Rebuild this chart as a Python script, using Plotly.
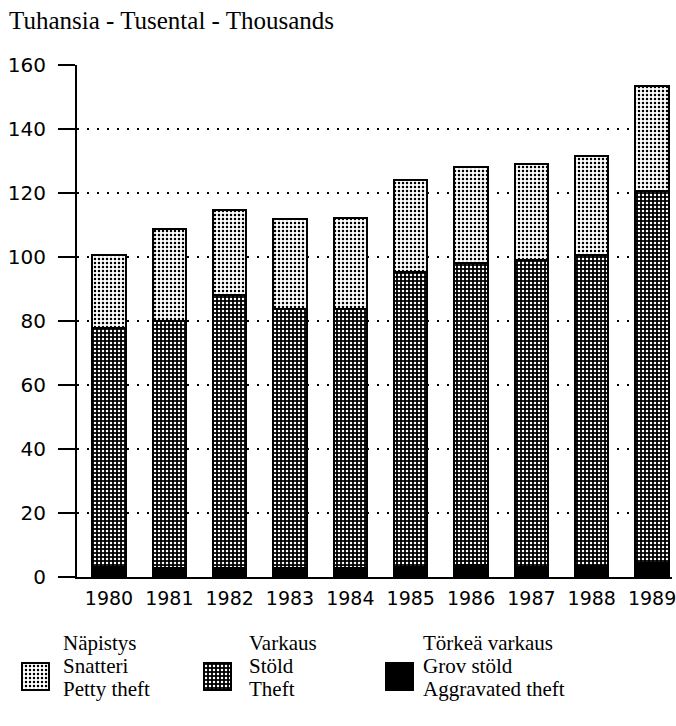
import plotly.graph_objects as go

W, H = 676, 726

years = ["1980", "1981", "1982", "1983", "1984", "1985", "1986", "1987", "1988", "1989"]
aggravated = [3.2, 2.8, 2.9, 2.9, 2.8, 3.2, 3.6, 3.2, 3.5, 4.4]
theft = [74.7, 77.2, 85.1, 80.9, 81.0, 92.1, 94.4, 95.8, 97.1, 116.2]
petty = [22.7, 28.7, 26.7, 28.2, 28.5, 28.7, 30.0, 30.0, 30.9, 32.8]
yticks = [0, 20, 40, 60, 80, 100, 120, 140, 160]

title_text = "Tuhansia - Tusental - Thousands"
legend_lines = [
    ["Näpistys", "Snatteri", "Petty theft"],
    ["Varkaus", "Stöld", "Theft"],
    ["Törkeä varkaus", "Grov stöld", "Aggravated theft"],
]

SERIF = "Liberation Serif, Times New Roman, serif"
SANS = "DejaVu Sans, Arial, sans-serif"


def px_x(p):
    return p / W


def px_y(p):
    return 1 - p / H


styles = {
    "petty": dict(color="white", line=dict(color="black", width=2),
                  pattern=dict(shape=".", bgcolor="white", fgcolor="black",
                               size=4, solidity=0.3, fillmode="replace")),
    "theft": dict(color="black", line=dict(color="black", width=2),
                  pattern=dict(shape=".", bgcolor="black", fgcolor="white",
                               size=4, solidity=0.3, fillmode="replace")),
    "aggr": dict(color="black", line=dict(color="black", width=2)),
}

xs = list(range(len(years)))
fig = go.Figure()
for vals, key in [(aggravated, "aggr"), (theft, "theft"), (petty, "petty")]:
    fig.add_trace(go.Bar(x=xs, y=vals, width=0.55, marker=styles[key],
                         showlegend=False, hoverinfo="skip",
                         xaxis="x", yaxis="y"))

# legend swatches (aux axes in page-pixel units)
sw_left = [22, 204, 386]
sw_w = 27
sw_top, sw_bot = 663, 690
for i, key in enumerate(["petty", "theft", "aggr"]):
    fig.add_trace(go.Bar(x=[sw_left[i] + sw_w / 2], y=[sw_top - sw_bot], base=[sw_bot],
                         width=sw_w, marker=styles[key], showlegend=False,
                         hoverinfo="skip", xaxis="x2", yaxis="y2"))

text_left = [62, 248, 422]
line_cy = [643, 666, 689]
annotations = [dict(text=title_text, x=px_x(8), y=px_y(20), xref="paper", yref="paper",
                    xanchor="left", yanchor="middle", showarrow=False, borderpad=0,
                    font=dict(family=SERIF, size=25, color="black"))]
for i, lines in enumerate(legend_lines):
    for j, t in enumerate(lines):
        annotations.append(dict(text=t, x=px_x(text_left[i]), y=px_y(line_cy[j]),
                                xref="paper", yref="paper", xanchor="left",
                                yanchor="middle", showarrow=False, borderpad=0,
                                font=dict(family=SERIF, size=21, color="black")))

x0, x1 = 77, 672
y_top, y_bot = 65, 577
y2_px_top = 600

fig.update_layout(
    width=W, height=H,
    margin=dict(l=0, r=0, t=0, b=0, autoexpand=False),
    paper_bgcolor="white", plot_bgcolor="white",
    barmode="stack",
    annotations=annotations,
    xaxis=dict(domain=[px_x(x0), px_x(x1)], range=[-0.53, 9.33],
               tickmode="array", tickvals=xs, ticktext=years,
               showline=True, linecolor="black", linewidth=2,
               showgrid=False, zeroline=False, ticks="",
               ticklabelstandoff=3, ticklabeloverflow="allow",
               tickfont=dict(family=SANS, size=19, color="black"),
               fixedrange=True, anchor="y"),
    yaxis=dict(domain=[px_y(y_bot), px_y(y_top)], range=[0, 160],
               tickmode="array", tickvals=yticks,
               showline=True, linecolor="black", linewidth=2,
               ticks="outside", ticklen=17, tickwidth=2, tickcolor="black",
               showgrid=True, gridcolor="black", gridwidth=2, griddash="2px,8px",
               zeroline=False, ticklabelstandoff=8,
               tickfont=dict(family=SANS, size=20, color="black"),
               fixedrange=True, anchor="x"),
    xaxis2=dict(domain=[0, 1], range=[0, W], visible=False, anchor="y2", fixedrange=True),
    yaxis2=dict(domain=[0, px_y(y2_px_top)], range=[H, y2_px_top], visible=False,
                anchor="x2", fixedrange=True),
)

fig.write_html(
    "out.html",
    config={"displayModeBar": False, "staticPlot": True},
    post_script="document.body.style.margin='0';document.body.style.overflow='hidden';",
)
